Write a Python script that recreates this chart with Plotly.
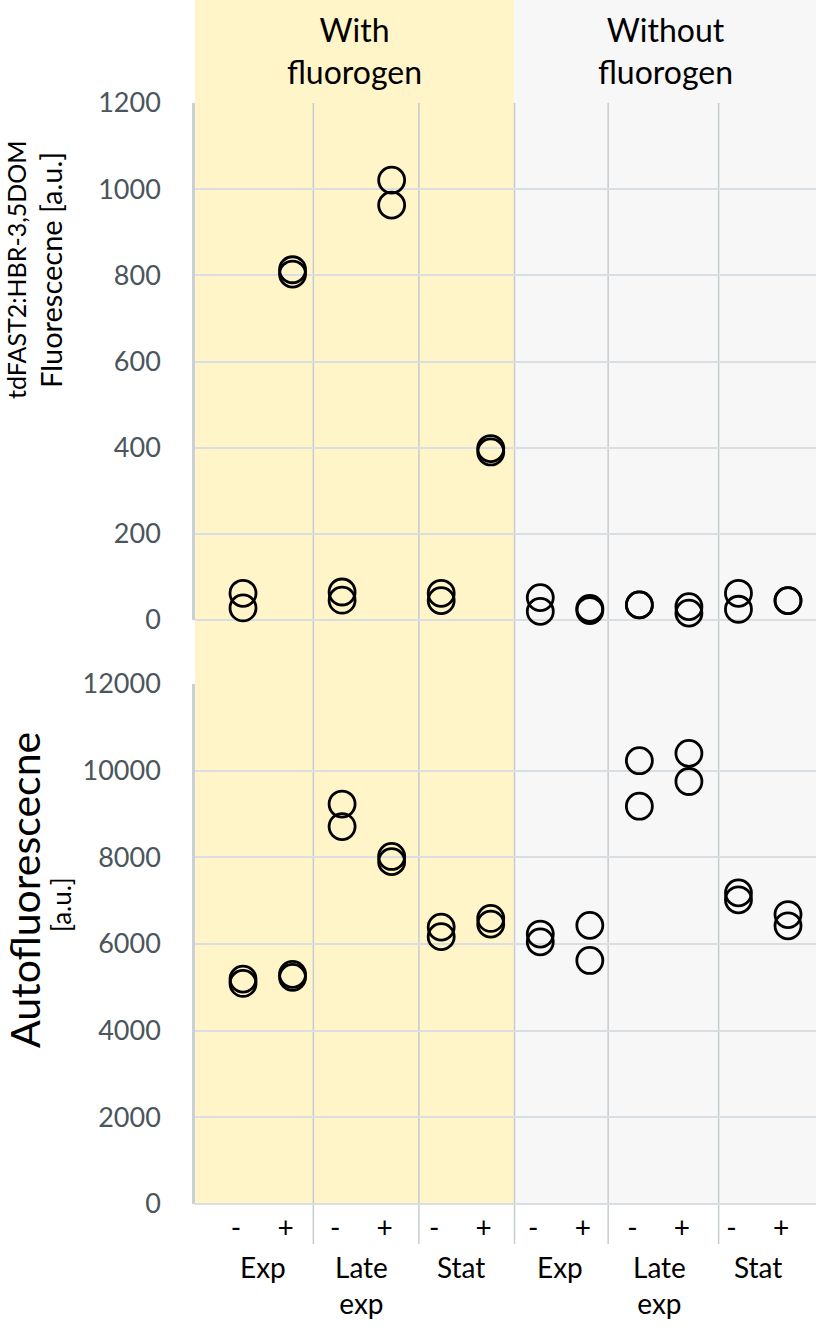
import plotly.graph_objects as go

# ---------------- data ----------------
conditions = ["With<br>fluorogen", "Without<br>fluorogen"]
phases = ["Exp", "Late<br>exp", "Stat"]
sign_labels = ["-", "+"]
categories = [f"{c}|{p}|{s}" for c in conditions for p in phases for s in sign_labels]
cat_signs = [s for c in conditions for p in phases for s in sign_labels]

# tdFAST2:HBR-3,5DOM fluorescence, two replicates per category
fluor_rep1 = [62, 813, 65, 1021, 62, 398, 52, 27, 35, 31, 62, 45]
fluor_rep2 = [28, 803, 46, 963, 45, 390, 20, 22, 35, 16, 25, 45]
# autofluorescence, two replicates per category
auto_rep1 = [5190, 5300, 9230, 8020, 6390, 6590, 6230, 6430, 10230, 10400, 7180, 6680]
auto_rep2 = [5090, 5230, 8710, 7900, 6170, 6460, 6050, 5620, 9180, 9750, 7020, 6420]

fluor_ticks = [0, 200, 400, 600, 800, 1000, 1200]
auto_ticks = [0, 2000, 4000, 6000, 8000, 10000, 12000]

title_top = ["tdFAST2:HBR-3,5DOM", "Fluorescecne [a.u.]"]
title_bottom = ["Autofluorescecne", "[a.u.]"]

# ---------------- layout constants ----------------
W, H = 816, 1330
ML = 195
FONT = "Lato"
xpos = list(range(len(categories)))
X0, X1 = -0.969, 11.565
sep_x = [1.42, 3.55, 5.48, 7.37, 9.6]

def py(px):  # pixel row -> paper y
    return 1 - px / H

def pxx(px):  # pixel column -> paper x
    return (px - ML) / (W - ML)

fig = go.Figure()

marker = dict(symbol="circle-open", size=26, color="black", line=dict(width=2.8, color="black"))
for reps in (fluor_rep1, fluor_rep2):
    fig.add_trace(go.Scatter(x=xpos, y=reps, mode="markers", marker=marker,
                             xaxis="x", yaxis="y", showlegend=False, cliponaxis=False))
for reps in (auto_rep1, auto_rep2):
    fig.add_trace(go.Scatter(x=xpos, y=reps, mode="markers", marker=marker,
                             xaxis="x2", yaxis="y2", showlegend=False, cliponaxis=False))

shapes = []
# background panels
shapes.append(dict(type="rect", xref="paper", yref="paper", x0=0, x1=pxx(514),
                   y0=py(1204), y1=1, fillcolor="#FFF5C9", line=dict(width=0), layer="below"))
shapes.append(dict(type="rect", xref="paper", yref="paper", x0=pxx(514), x1=1,
                   y0=py(1204), y1=1, fillcolor="#F7F7F7", line=dict(width=0), layer="below"))
# group separators
for sx in sep_x:
    shapes.append(dict(type="line", xref="x", yref="paper", x0=sx, x1=sx,
                       y0=py(1244), y1=py(103), line=dict(color="#C5CDD1", width=1.5), layer="below"))

grid = "#D9DEE2"
axis_line = "#C9D1D5"
tick_font = dict(family=FONT, size=27, color="#4A555C")

fig.update_layout(
    template="none",
    width=W, height=H,
    autosize=False,
    margin=dict(l=ML, r=0, t=0, b=0, pad=0, autoexpand=False),
    paper_bgcolor="white",
    plot_bgcolor="rgba(0,0,0,0)",
    font=dict(family=FONT, color="black"),
    shapes=shapes,
    xaxis=dict(domain=[0, 1], range=[X0, X1], showgrid=False, zeroline=False, automargin=False,
               showticklabels=False, ticks="", showline=False, anchor="y"),
    xaxis2=dict(domain=[0, 1], range=[X0, X1], showgrid=False, zeroline=False, automargin=False,
                tickmode="array", tickvals=xpos, ticktext=cat_signs, ticks="", showline=False,
                tickfont=dict(family=FONT, size=28, color="black"),
                ticklabelshift=-7, ticklabelstandoff=5, anchor="y2"),
    yaxis=dict(domain=[py(620), py(103)], range=[0, 1200], tickmode="array",
               tickvals=fluor_ticks, ticktext=[str(v) for v in fluor_ticks],
               showgrid=True, gridcolor=grid, gridwidth=1.7, automargin=False,
               zeroline=True, zerolinecolor=grid, zerolinewidth=1.7,
               showline=True, linecolor=axis_line, linewidth=2.5,
               tickfont=tick_font, ticks="", ticklabelstandoff=26, anchor="x"),
    yaxis2=dict(domain=[py(1204), py(684)], range=[0, 12000], tickmode="array",
                tickvals=auto_ticks, ticktext=[str(v) for v in auto_ticks],
                showgrid=True, gridcolor=grid, gridwidth=1.7, automargin=False,
                zeroline=True, zerolinecolor=grid, zerolinewidth=1.7,
                showline=True, linecolor=axis_line, linewidth=2.5,
                tickfont=tick_font, ticks="", ticklabelstandoff=26, anchor="x2"),
)

ann = []
# condition headers
for ci, (xa, xb) in enumerate([(0, pxx(514)), (pxx(514), 1)]):
    ann.append(dict(text=conditions[ci], xref="paper", yref="paper", x=(xa + xb) / 2, y=py(51),
                    xanchor="center", yanchor="middle", showarrow=False,
                    font=dict(family=FONT, size=32, color="black")))
# phase group labels
for gi in range(6):
    ann.append(dict(text=phases[gi % 3], xref="x2", yref="paper", x=2 * gi + 0.5, y=py(1248),
                    xshift=-5, showarrow=False, xanchor="center", yanchor="top",
                    font=dict(family=FONT, size=28, color="black")))
# axis titles (each line placed separately)
title_specs = [
    (title_top[0], 16, 270, 25),
    (title_top[1], 51, 270, 29),
    (title_bottom[0], 24, 890, 41),
    (title_bottom[1], 61, 905, 26),
]
for txt, cx, cy, fs in title_specs:
    ann.append(dict(text=txt, xref="paper", yref="paper", x=pxx(cx), y=py(cy),
                    textangle=-90, showarrow=False, xanchor="center", yanchor="middle",
                    font=dict(family=FONT, size=fs, color="black")))
fig.update_layout(annotations=ann)

fig.write_html("out.html", config={"displayModeBar": False},
               post_script="document.body.style.margin='0px';document.body.style.overflow='hidden';")
